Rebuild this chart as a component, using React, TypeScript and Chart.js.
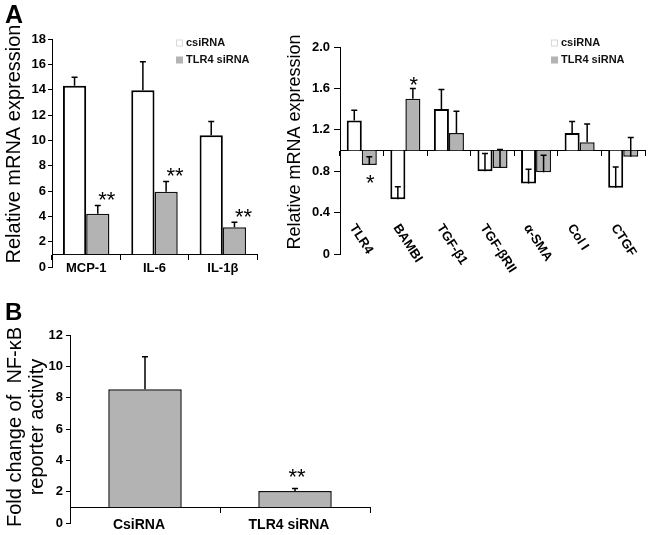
import React, { useEffect, useRef } from "react";
import { Chart, registerables } from "chart.js";

Chart.register(...registerables);

const FONT = '"Liberation Sans", Arial, Helvetica, sans-serif';
const WHITE_FILL = "#ffffff";
const GRAY_FILL = "#b3b3b3";
const INK = "#000000";

const SERIES_LABELS = ["csiRNA", "TLR4 siRNA"];

// Panel A (left): cytokines
const cytokineCategories = ["MCP-1", "IL-6", "IL-1β"];
const cytokineControl = [14.3, 13.95, 10.4];
const cytokineControlErr = [0.68, 2.25, 1.08];
const cytokineTlr4 = [4.2, 5.95, 3.13];
const cytokineTlr4Err = [0.65, 0.8, 0.4];
const cytokineStars = ["**", "**", "**"];
const cytokineAxis = { min: 0, max: 18, step: 2 };

// Panel A (right): fibrogenic genes
const geneCategories = ["TLR4", "BAMBI", "TGF-β1", "TGF-βRII", "α-SMA", "Col I", "CTGF"];
const geneControl = [1.29, 0.53, 1.4, 0.8, 0.68, 1.17, 0.64];
const geneControlErr = [0.1, 0.12, 0.19, 0.17, 0.14, 0.11, 0.2];
const geneTlr4 = [0.86, 1.5, 1.17, 0.83, 0.79, 1.08, 0.94];
const geneTlr4Err = [0.08, 0.1, 0.21, 0.18, 0.165, 0.175, 0.185];
const geneStars = ["*", "*", "", "", "", "", ""];
const geneAxis = { min: 0, max: 2, step: 0.4 };

// Panel B: NF-kB reporter
const reporterCategories = ["CsiRNA", "TLR4 siRNA"];
const reporterValues = [8.53, 2.04];
const reporterErr = [2.08, 0.17];
const reporterStars = ["", "**"];
const reporterAxis = { min: 0, max: 12, step: 2 };

const BASE_VALUE = 1;

const decorPlugin = {
  id: "decor",
  afterDatasetsDraw(chart: any, _args: any, opts: any) {
    const ctx = chart.ctx as CanvasRenderingContext2D;
    const yScale = chart.scales.y;
    const xScale = chart.scales.x;
    const area = chart.chartArea;
    ctx.save();
    // error bars + significance stars
    chart.data.datasets.forEach((ds: any, di: number) => {
      const meta = chart.getDatasetMeta(di);
      meta.data.forEach((bar: any, i: number) => {
        const v = ds.data[i];
        const e = ds.errors ? ds.errors[i] : null;
        const x = bar.x;
        const yv = yScale.getPixelForValue(v);
        let yTop = yv;
        if (e != null) {
          yTop = yScale.getPixelForValue(v + e);
          ctx.strokeStyle = INK;
          ctx.lineWidth = 1.5;
          ctx.beginPath();
          ctx.moveTo(x, yv);
          ctx.lineTo(x, yTop);
          ctx.moveTo(x - 3, yTop);
          ctx.lineTo(x + 3, yTop);
          ctx.stroke();
        }
        const s = ds.stars ? ds.stars[i] : "";
        if (s) {
          const size = opts.starSize || 22;
          ctx.font = `${size}px ${FONT}`;
          ctx.fillStyle = INK;
          ctx.textAlign = "center";
          ctx.textBaseline = "alphabetic";
          let cy;
          if (v < BASE_VALUE) cy = yv + (opts.starBelow || 12);
          else cy = yTop - (opts.starGap || 10);
          ctx.fillText(s, x + (opts.starDx || 0), cy + 0.58 * size);
        }
      });
    });
    // rotated category labels
    if (opts.rotatedLabels) {
      const r = opts.rotatedLabels;
      ctx.font = `bold ${r.size}px ${FONT}`;
      ctx.fillStyle = INK;
      ctx.textAlign = "left";
      ctx.textBaseline = "top";
      chart.data.labels.forEach((lab: string, i: number) => {
        const x = xScale.getPixelForValue(i) + r.dx;
        const y = area.bottom + r.dy;
        ctx.save();
        ctx.translate(x, y);
        ctx.rotate((r.angle * Math.PI) / 180);
        ctx.fillText(lab, 0, 0);
        ctx.restore();
      });
    }
    ctx.restore();
  },
  afterDraw(chart: any, _args: any, opts: any) {
    const ctx = chart.ctx as CanvasRenderingContext2D;
    ctx.save();
    if (opts.legend) {
      const { x, y, gap } = opts.legend;
      chart.data.datasets.forEach((ds: any, i: number) => {
        const yy = y + i * gap;
        ctx.fillStyle = ds.backgroundColor;
        ctx.fillRect(x, yy - 3.5, 7, 7);
        if (ds.backgroundColor === WHITE_FILL) {
          ctx.strokeStyle = "#d8d8d8";
          ctx.lineWidth = 1;
          ctx.strokeRect(x + 0.5, yy - 3, 6, 6);
        }
        ctx.fillStyle = "#111";
        ctx.font = `bold 11px ${FONT}`;
        ctx.textAlign = "left";
        ctx.textBaseline = "middle";
        ctx.fillText(ds.label, x + 10, yy);
      });
    }
    if (opts.yTitle) {
      const t = opts.yTitle;
      ctx.font = `${t.size}px ${FONT}`;
      ctx.fillStyle = INK;
      ctx.textAlign = "center";
      ctx.textBaseline = "alphabetic";
      ctx.translate(t.x, t.y);
      ctx.rotate(-Math.PI / 2);
      t.lines.forEach((line: string, i: number) => ctx.fillText(line, 0, i * t.gap));
      ctx.setTransform(1, 0, 0, 1, 0, 0);
    }
    if (opts.panel) {
      const p = opts.panel;
      ctx.font = `bold ${p.size}px ${FONT}`;
      ctx.fillStyle = INK;
      ctx.textAlign = "left";
      ctx.textBaseline = "alphabetic";
      ctx.fillText(p.text, p.x, p.y);
    }
    ctx.restore();
  },
};

function yAxis(ax: { min: number; max: number; step: number }, width: number, tickLength: number, padding: number) {
  return {
    min: ax.min,
    max: ax.max,
    ticks: { stepSize: ax.step, font: { family: FONT, size: 13, weight: "bold" }, color: INK, padding },
    grid: { drawOnChartArea: false, drawTicks: true, tickLength, color: INK, lineWidth: 1 },
    border: { display: true, color: INK, width: 1 },
    afterFit: (s: any) => {
      s.width = width;
    },
  };
}

function xAxis(showTicks: boolean, size: number, padding: number, labelOffset: number) {
  return {
    type: "category",
    position: { y: BASE_VALUE },
    offset: true,
    ticks: {
      display: showTicks,
      font: { family: FONT, size, weight: "bold" },
      color: INK,
      padding,
      labelOffset,
      maxRotation: 0,
      minRotation: 0,
      autoSkip: false,
    },
    grid: { drawOnChartArea: false, drawTicks: true, tickLength: 5, offset: true, color: INK, lineWidth: 1 },
    border: { display: true, color: INK, width: 1 },
  };
}

function pairDatasets(ctrl: number[], ctrlErr: number[], tlr: number[], tlrErr: number[], stars: string[]) {
  return [
    {
      label: SERIES_LABELS[0],
      data: ctrl,
      errors: ctrlErr,
      base: BASE_VALUE,
      backgroundColor: WHITE_FILL,
      borderColor: INK,
      borderWidth: 2,
      categoryPercentage: 0,
      barPercentage: 1,
    },
    {
      label: SERIES_LABELS[1],
      data: tlr,
      errors: tlrErr,
      stars,
      base: BASE_VALUE,
      backgroundColor: GRAY_FILL,
      borderColor: "#111",
      borderWidth: 1.5,
      barPercentage: 1,
    },
  ];
}

const commonOptions = {
  responsive: false,
  animation: false as const,
  devicePixelRatio: 1,
  events: [] as any[],
};

function cytokineConfig(): any {
  const ds = pairDatasets(cytokineControl, cytokineControlErr, cytokineTlr4, cytokineTlr4Err, cytokineStars);
  ds.forEach((d: any) => (d.categoryPercentage = 0.68));
  return {
    type: "bar",
    data: { labels: cytokineCategories, datasets: ds },
    options: {
      ...commonOptions,
      layout: { padding: { top: 39, bottom: 23, left: 0, right: 13 } },
      scales: { x: xAxis(true, 13, 1, 0), y: yAxis(cytokineAxis, 52, 4, 2) },
      plugins: {
        legend: { display: false },
        tooltip: { enabled: false },
        decor: {
          starDx: 9,
          starGap: 11,
          legend: { x: 176, y: 43, gap: 17 },
          yTitle: { lines: ["Relative mRNA expression"], x: 20, y: 144, size: 20, gap: 22 },
          panel: { text: "A", x: 5, y: 23, size: 25 },
        },
      },
    },
    plugins: [decorPlugin],
  };
}

function geneConfig(): any {
  const ds = pairDatasets(geneControl, geneControlErr, geneTlr4, geneTlr4Err, geneStars);
  ds.forEach((d: any) => (d.categoryPercentage = 0.69));
  return {
    type: "bar",
    data: { labels: geneCategories, datasets: ds },
    options: {
      ...commonOptions,
      layout: { padding: { top: 47, bottom: 36, left: 0, right: 6 } },
      scales: { x: xAxis(false, 13, 1, 0), y: yAxis(geneAxis, 60, 6, 4) },
      plugins: {
        legend: { display: false },
        tooltip: { enabled: false },
        decor: {
          starDx: 1,
          starGap: 9,
          starBelow: 12,
          legend: { x: 271, y: 43, gap: 17 },
          yTitle: { lines: ["Relative mRNA expression"], x: 20, y: 142, size: 18, gap: 22 },
          rotatedLabels: { size: 13, dx: -4, dy: -32, angle: 57 },
        },
      },
    },
    plugins: [decorPlugin],
  };
}

function reporterConfig(): any {
  return {
    type: "bar",
    data: {
      labels: reporterCategories,
      datasets: [
        {
          label: "NF-κB reporter",
          data: reporterValues,
          errors: reporterErr,
          stars: reporterStars,
          base: BASE_VALUE,
          backgroundColor: GRAY_FILL,
          borderColor: "#111",
          borderWidth: 1.5,
          categoryPercentage: 1,
          barPercentage: 0.49,
        },
      ],
    },
    options: {
      ...commonOptions,
      layout: { padding: { top: 45, bottom: 12, left: 0, right: 30 } },
      scales: { x: xAxis(true, 14, 4, -6), y: yAxis(reporterAxis, 70, 4, 3) },
      plugins: {
        legend: { display: false },
        tooltip: { enabled: false },
        decor: {
          starDx: 2,
          starGap: 17,
          yTitle: { lines: ["Fold change of  NF-κB", "reporter activity"], x: 20.5, y: 137, size: 20, gap: 22.5 },
          panel: { text: "B", x: 5, y: 30, size: 24 },
        },
      },
    },
    plugins: [decorPlugin],
  };
}

function ChartCanvas(props: { make: () => any; left: number; top: number; width: number; height: number }) {
  const ref = useRef<HTMLCanvasElement>(null);
  useEffect(() => {
    const chart = new Chart(ref.current as HTMLCanvasElement, props.make());
    return () => chart.destroy();
  }, []);
  return (
    <canvas
      ref={ref}
      width={props.width}
      height={props.height}
      style={{ position: "absolute", left: props.left, top: props.top, width: props.width, height: props.height }}
    />
  );
}

export default function App() {
  return (
    <div style={{ position: "absolute", left: 0, top: 0, width: 651, height: 535, background: "#fff" }}>
      <ChartCanvas make={cytokineConfig} left={0} top={0} width={270} height={290} />
      <ChartCanvas make={geneConfig} left={280} top={0} width={371} height={290} />
      <ChartCanvas make={reporterConfig} left={0} top={290} width={400} height={245} />
    </div>
  );
}
